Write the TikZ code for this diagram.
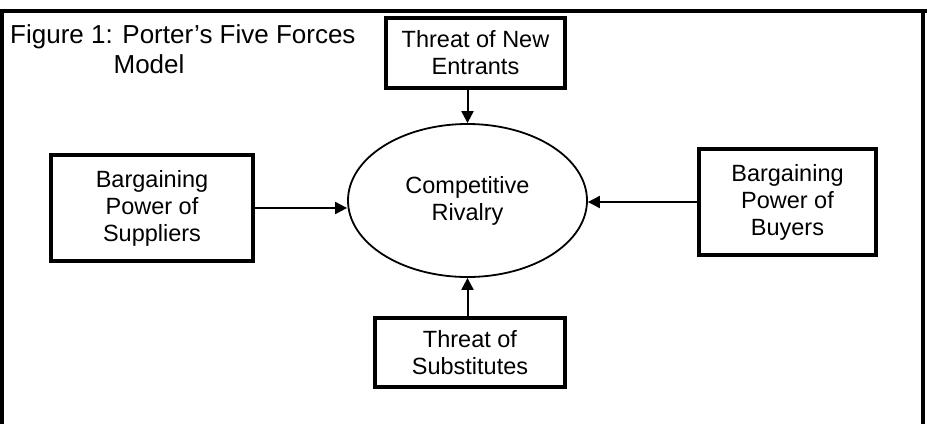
\documentclass[tikz,border=0pt]{standalone}
\usepackage{fontspec}
\setmainfont{Liberation Sans}
\usetikzlibrary{shapes.geometric,arrows.meta}
\tikzset{
  forcebox/.style={draw, line width=4pt, inner sep=0pt, align=center,
    font=\fontsize{23.5}{27}\selectfont},
  rivalshape/.style={draw, ellipse, line width=1.8pt, inner sep=0pt, align=center,
    minimum width=239pt, minimum height=153pt, font=\fontsize{23.5}{27}\selectfont},
  arr/.style={line width=2pt, -{Triangle[length=12pt,width=12pt]}},
  frame/.style={line width=4pt},
  titletext/.style={inner sep=0pt, font=\fontsize{26}{30}\selectfont}
}
\begin{document}
\begin{tikzpicture}[x=1pt,y=-1pt]
\useasboundingbox (0,0) rectangle (927,424);
\fill[white] (0,0) rectangle (927,424);
% outer frame (no bottom edge visible)
\coordinate (fbl) at (2,424);
\coordinate (ftl) at (2,11);
\coordinate (ftr) at (923,11);
\coordinate (fbr) at (923,424);
\coordinate (fte) at (927,11);
\draw[frame] (fbl) -- (ftl) -- (fte);
\draw[frame] (ftr) -- (fbr);
% title
\node[titletext, anchor=base west] (title1) at (10,43) {Figure 1: Porter’s Five Forces};
\node[titletext, anchor=base] (title2) at (149,73) {Model};
% nodes
\node[rivalshape] (rival) at (467.5,200.5) {Competitive\\Rivalry};
\node[forcebox, minimum width=179pt, minimum height=70pt] (entrants) at (475.5,53) {Threat of New\\Entrants};
\node[forcebox, minimum width=202pt, minimum height=106pt] (suppliers) at (152,208) {Bargaining\\Power of\\Suppliers};
\node[forcebox, minimum width=177pt, minimum height=106pt] (buyers) at (787.5,202) {Bargaining\\Power of\\Buyers};
\node[forcebox, minimum width=190pt, minimum height=69pt] (subst) at (470,352.5) {Threat of\\Substitutes};
% connectors
\draw[arr] (rival.north |- entrants.south) -- (rival.north);
\draw[arr] (suppliers.east) -- (suppliers.east -| rival.west);
\draw[arr] (buyers.west) -- (buyers.west -| rival.east);
\draw[arr] (rival.south |- subst.north) -- (rival.south);
\end{tikzpicture}
\end{document}
